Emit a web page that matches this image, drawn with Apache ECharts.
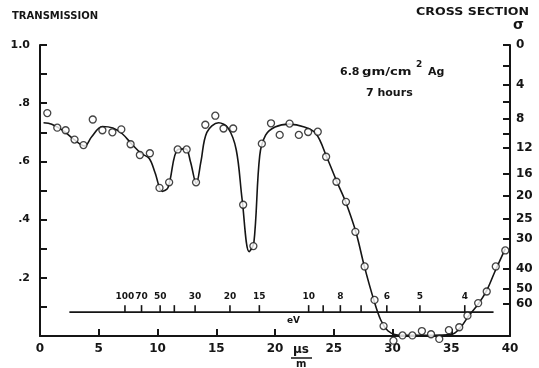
<!DOCTYPE html>
<html>
<head>
<meta charset="utf-8">
<script src="https://cdn.jsdelivr.net/npm/echarts@6/dist/echarts.min.js"></script>
<style>
  html, body { margin: 0; padding: 0; background: #fff; }
  #chart { width: 539px; height: 368px; }
</style>
</head>
<body>
<div id="chart"></div>
<script>
// measured points (time of flight in µs/m, transmission)
var pointT = [0.62, 1.47, 2.18, 2.94, 3.70, 4.49, 5.31, 6.16, 6.92, 7.71, 8.50, 9.35,
  10.17, 10.99, 11.72, 12.48, 13.28, 14.07, 14.92, 15.62, 16.44, 17.29, 18.16, 18.88,
  19.66, 20.40, 21.24, 22.03, 22.82, 23.64, 24.35, 25.23, 26.04, 26.84, 27.63, 28.47,
  29.24, 30.08, 30.85, 31.69, 32.50, 33.28, 33.98, 34.80, 35.68, 36.38, 37.29, 38.02,
  38.79, 39.60];
var pointTr = [0.766, 0.716, 0.707, 0.675, 0.656, 0.744, 0.707, 0.700, 0.710, 0.659, 0.622, 0.628,
  0.509, 0.528, 0.641, 0.641, 0.528, 0.726, 0.757, 0.713, 0.713, 0.451, 0.309, 0.661,
  0.731, 0.691, 0.730, 0.691, 0.701, 0.702, 0.616, 0.530, 0.461, 0.358, 0.239, 0.124,
  0.034, -0.016, 0.002, 0.002, 0.017, 0.006, -0.010, 0.020, 0.030, 0.070, 0.113, 0.153,
  0.239, 0.294];

// the hand-drawn fitted curve
var curveT = [0.3, 1.0, 2.0, 3.0, 3.8, 4.4, 5.3, 6.2, 7.0, 7.8, 8.6, 9.3, 9.8, 10.4, 10.9,
  11.7, 12.4, 12.8, 13.3, 13.7, 14.2, 15.2, 16.0, 16.7, 17.2, 17.8, 18.2, 18.7, 19.2, 20.0,
  21.2, 22.5, 23.5, 24.4, 25.3, 26.0, 26.9, 27.6, 28.4, 29.0, 29.6, 30.3, 31.0, 35.0, 35.8,
  36.5, 37.3, 38.0, 38.7, 39.6];
var curveTr = [0.733, 0.728, 0.705, 0.672, 0.653, 0.685, 0.720, 0.715, 0.695, 0.660, 0.628,
  0.610, 0.560, 0.497, 0.510, 0.640, 0.643, 0.600, 0.524, 0.600, 0.700, 0.733, 0.715, 0.640,
  0.470, 0.290, 0.320, 0.620, 0.690, 0.718, 0.728, 0.718, 0.695, 0.615, 0.527, 0.462, 0.355,
  0.240, 0.125, 0.055, 0.018, 0.004, 0.002, 0.005, 0.030, 0.070, 0.110, 0.155, 0.220, 0.300];

// cross section scale on the right: T = exp(-k * sigma)
var sigmaK = 0.0365;
var sigmaLabels = [0, 4, 8, 12, 16, 20, 25, 30, 40, 50, 60];
var sigmaTicks = [0, 2, 4, 6, 8, 10, 12, 16, 20, 25, 30, 40, 50, 60];

// energy scale drawn inside the plot
var energyTicks = [100, 70, 50, 40, 30, 20, 15, 10, 9, 8, 7, 6, 5, 4];
var energyLabels = [100, 70, 50, 30, 20, 15, 10, 8, 6, 5, 4];
var energyLine = [2.5, 38.6];
var energyLevel = 0.082;

var ink = '#151515';
var font = 'DejaVu Sans';

function sig2tr(s) { return Math.exp(-sigmaK * s); }

var points = pointT.map(function (t, i) { return [t, pointTr[i]]; });
var curve = curveT.map(function (t, i) { return [t, curveTr[i]]; });

function label(x, y, text, size, sx) {
  return {
    type: 'text', x: x, y: y, scaleX: sx || 1,
    style: { text: text, fill: ink, font: 'bold ' + size + 'px "DejaVu Sans"' }
  };
}

var chart = echarts.init(document.getElementById('chart'));
chart.setOption({
  animation: false,
  backgroundColor: '#fff',
  grid: { left: 40, right: 29, top: 45, bottom: 32 },
  xAxis: {
    type: 'value', min: 0, max: 40, interval: 5,
    axisLine: { lineStyle: { color: ink, width: 2 } },
    axisTick: { inside: true, length: 7, lineStyle: { color: ink, width: 2 } },
    axisLabel: { color: ink, fontFamily: font, fontWeight: 'bold', fontSize: 12, margin: 7 },
    splitLine: { show: false }
  },
  yAxis: [{
    type: 'value', min: 0, max: 1, interval: 0.1,
    axisLine: { show: true, lineStyle: { color: ink, width: 2 } },
    axisTick: { inside: true, length: 7, lineStyle: { color: ink, width: 2 } },
    axisLabel: {
      color: ink, fontFamily: font, fontWeight: 'bold', fontSize: 11, margin: 10,
      formatter: function (v) {
        var n = Math.round(v * 10);
        if (n === 0 || n % 2) return '';
        if (n === 10) return '1.0';
        return '.' + n;
      }
    },
    splitLine: { show: false }
  }, {
    type: 'value', min: 0, max: 1, position: 'right',
    axisLine: { show: true, lineStyle: { color: ink, width: 2 } },
    axisTick: {
      show: true, inside: true, length: 7, lineStyle: { color: ink, width: 2 },
      customValues: sigmaTicks.map(sig2tr)
    },
    axisLabel: {
      color: ink, fontFamily: font, fontWeight: 'bold', fontSize: 12, margin: 6,
      customValues: sigmaLabels.map(sig2tr),
      formatter: function (v) { return String(Math.round(-Math.log(v) / sigmaK)); }
    },
    splitLine: { show: false }
  }],
  series: [{
    type: 'line', data: curve, smooth: 0.35, symbol: 'none',
    lineStyle: { color: ink, width: 1.6 }, z: 2
  }, {
    type: 'scatter', data: points, symbol: 'circle', symbolSize: 7, clip: false,
    itemStyle: { color: '#fff', borderColor: ink, borderWidth: 1.3 }, z: 3
  }, {
    type: 'line', data: energyLine.map(function (t) { return [t, energyLevel]; }),
    symbol: 'none', lineStyle: { color: ink, width: 1.6 }, z: 2
  }, {
    type: 'custom', z: 2,
    data: energyTicks,
    renderItem: function (params, api) {
      var e = api.value(0);
      var p = api.coord([72.3 / Math.sqrt(e), energyLevel]);
      var kids = [{
        type: 'line',
        shape: { x1: p[0], y1: p[1], x2: p[0], y2: p[1] - 7 },
        style: { stroke: ink, lineWidth: 1.6 }
      }];
      if (energyLabels.indexOf(e) >= 0) {
        kids.push({
          type: 'text',
          style: {
            text: String(e), x: p[0], y: p[1] - 15, align: 'center', verticalAlign: 'middle',
            fill: ink, font: 'bold 9px "DejaVu Sans"'
          }
        });
      }
      return { type: 'group', children: kids };
    }
  }],
  graphic: [
    label(12, 11, 'TRANSMISSION', 10),
    label(416, 7, 'CROSS SECTION', 10, 1.26),
    label(513, 18, 'σ', 14),
    label(340, 67, '6.8', 11),
    label(362, 67, 'gm/cm', 11, 1.2),
    label(416, 60, '2', 9),
    label(428, 67, 'Ag', 11),
    label(366, 88, '7 hours', 11),
    label(287, 316, 'eV', 9),
    label(293, 344, 'µs', 12),
    { type: 'line', shape: { x1: 291, y1: 358, x2: 312, y2: 358 }, style: { stroke: ink, lineWidth: 1.5 } },
    label(296, 359, 'm', 10)
  ]
});
</script>
</body>
</html>
